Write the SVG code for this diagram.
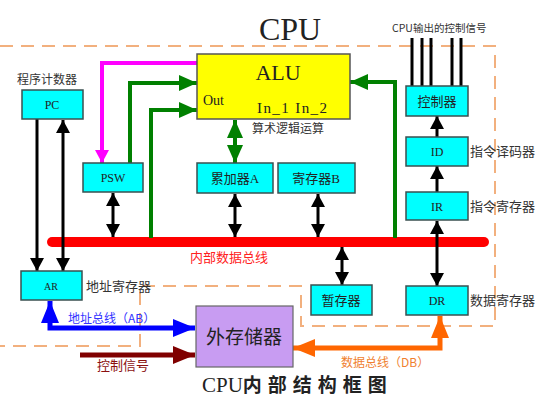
<svg xmlns="http://www.w3.org/2000/svg" width="538" height="401" viewBox="0 0 538 401">
<style>
.box{fill:#00ffff;stroke:#3a5050;stroke-width:1.5}
.t{font-family:"Liberation Serif","Noto Sans CJK SC",serif;fill:#222;text-anchor:middle}
.lab{font-family:"Noto Sans CJK SC","Liberation Sans",sans-serif;fill:#333;font-size:12px}
.blk{fill:none;stroke:#000;stroke-width:3}
.grn{fill:none;stroke:#008000;stroke-width:4}
</style>
<defs>
<marker id="ab" markerUnits="userSpaceOnUse" markerWidth="14" markerHeight="14" refX="13" refY="7" orient="auto-start-reverse"><path d="M0,0 L13,7 L0,14 z" fill="#000"/></marker>
<marker id="ag" markerUnits="userSpaceOnUse" markerWidth="18" markerHeight="16" refX="18" refY="8" orient="auto-start-reverse"><path d="M0,0 L18,8 L0,16 z" fill="#008000"/></marker>
<marker id="am" markerUnits="userSpaceOnUse" markerWidth="14" markerHeight="14" refX="13" refY="7" orient="auto-start-reverse"><path d="M0,0 L13,7 L0,14 z" fill="#ff00ff"/></marker>
<marker id="abl" markerUnits="userSpaceOnUse" markerWidth="22" markerHeight="18" refX="22" refY="9" orient="auto-start-reverse"><path d="M0,0 L22,9 L0,18 z" fill="#0000ff"/></marker>
<marker id="ard" markerUnits="userSpaceOnUse" markerWidth="22" markerHeight="18" refX="22" refY="9" orient="auto-start-reverse"><path d="M0,0 L22,9 L0,18 z" fill="#800000"/></marker>
<marker id="ao" markerUnits="userSpaceOnUse" markerWidth="22" markerHeight="18" refX="22" refY="9" orient="auto-start-reverse"><path d="M0,0 L22,9 L0,18 z" fill="#ff6600"/></marker>
</defs>
<rect width="538" height="401" fill="#fff"/>
<!-- dashed CPU boundary -->
<path d="M0,46 H495 V326 H301 V286 H140 V346 H0" fill="none" stroke="#f2b07e" stroke-width="2" stroke-dasharray="13,8"/>
<text class="t" x="290" y="40" font-size="32">CPU</text>
<text class="lab" x="392" y="32" font-size="10.5" style="font-size:10.5px">CPU输出的控制信号</text>

<g id="connectors">
<line x1="52" y1="242" x2="484" y2="242" stroke="#ff0000" stroke-width="10" stroke-linecap="round"/>
<g class="blk">
<line x1="412" y1="38" x2="412" y2="86"/><line x1="422" y1="38" x2="422" y2="86"/><line x1="431" y1="38" x2="431" y2="86"/><line x1="452" y1="38" x2="452" y2="86"/><line x1="461" y1="38" x2="461" y2="86"/>
<path d="M37,119 V271" marker-end="url(#ab)"/>
<path d="M63,120 V271" marker-start="url(#ab)" marker-end="url(#ab)"/>
<path d="M113,193 V237" marker-start="url(#ab)" marker-end="url(#ab)"/>
<path d="M235,194 V237" marker-start="url(#ab)" marker-end="url(#ab)"/>
<path d="M318,194 V237" marker-start="url(#ab)" marker-end="url(#ab)"/>
<path d="M342,247 V285" marker-start="url(#ab)" marker-end="url(#ab)"/>
<path d="M437,221 V286" marker-start="url(#ab)" marker-end="url(#ab)"/>
<path d="M437,137 V116" marker-end="url(#ab)"/>
<path d="M437,192 V166" marker-end="url(#ab)"/>
</g>
<path d="M197,63 H102 V163" fill="none" stroke="#ff00ff" stroke-width="4" marker-end="url(#am)"/>
<g class="grn">
<path d="M130,163 V83 H197" marker-end="url(#ag)"/>
<path d="M151,238 V110 H197" marker-end="url(#ag)"/>
<path d="M395,238 V82 H350" marker-end="url(#ag)"/>
<path d="M235,120 V163" marker-start="url(#ag)" marker-end="url(#ag)"/>
</g>
<path d="M50,301 V328 H195" fill="none" stroke="#0000ff" stroke-width="5" marker-start="url(#abl)" marker-end="url(#abl)"/>
<path d="M80,355 H195" fill="none" stroke="#800000" stroke-width="5" marker-end="url(#ard)"/>
<path d="M440,316 V348 H293" fill="none" stroke="#ff6600" stroke-width="5" marker-start="url(#ao)" marker-end="url(#ao)"/>
</g>

<g id="alu">
<rect x="197" y="54" width="153" height="65" fill="#ffff00" stroke="#555" stroke-width="1.5"/>
<text class="t" x="278" y="80" font-size="22">ALU</text>
<text class="t" x="203" y="105" font-size="14" style="text-anchor:start">Out</text>
<text class="t" x="257" y="113" font-size="15" textLength="70" style="text-anchor:start">In_1 In_2</text>
<text class="lab" x="252" y="133">算术逻辑运算</text>
</g>
<g id="pc">
<text class="lab" x="17" y="84">程序计数器</text>
<rect class="box" x="22" y="90" width="61" height="29"/>
<text class="t" x="52" y="109" font-size="12">PC</text>
</g>
<g id="psw"><rect class="box" x="83" y="163" width="60" height="29"/><text class="t" x="113" y="182" font-size="12">PSW</text></g>
<g id="acc"><rect class="box" x="197" y="163" width="76" height="30"/><text class="t" x="235" y="183" font-size="13">累加器A</text></g>
<g id="regb"><rect class="box" x="278" y="163" width="77" height="30"/><text class="t" x="316" y="183" font-size="13">寄存器B</text></g>
<g id="ctrl"><rect class="box" x="406" y="86" width="62" height="30"/><text class="t" x="437" y="106" font-size="13">控制器</text></g>
<g id="id"><rect class="box" x="406" y="137" width="62" height="29"/><text class="t" x="437" y="156" font-size="12">ID</text><text class="lab" x="470" y="156" style="font-size:13px">指令译码器</text></g>
<g id="ir"><rect class="box" x="406" y="192" width="62" height="28"/><text class="t" x="437" y="211" font-size="12">IR</text><text class="lab" x="470" y="211" style="font-size:13px">指令寄存器</text></g>
<g id="dr"><rect class="box" x="406" y="286" width="62" height="29"/><text class="t" x="437" y="305" font-size="12">DR</text><text class="lab" x="470" y="305" style="font-size:13px">数据寄存器</text></g>
<g id="tmp"><rect class="box" x="311" y="285" width="61" height="30"/><text class="t" x="341" y="305" font-size="13">暂存器</text></g>
<g id="ar"><rect class="box" x="21" y="271" width="61" height="29"/><text class="t" x="51" y="290" font-size="10">AR</text><text class="lab" x="86" y="291" style="font-size:13px">地址寄存器</text></g>
<g id="mem"><rect x="196" y="306" width="97" height="61" fill="#c89cf2" stroke="#666" stroke-width="1.2"/><text class="t" x="244" y="344" font-size="19">外存储器</text></g>

<text class="lab" x="190" y="262" style="font-size:13px;fill:#ff2020">内部数据总线</text>
<text class="lab" x="68" y="323" style="fill:#3333ff">地址总线（AB）</text>
<text class="lab" x="97" y="370" style="font-size:13px;fill:#8b1010">控制信号</text>
<text class="lab" x="341" y="367" style="fill:#f07f30">数据总线（DB）</text>
<text x="202" y="392" font-family="Liberation Serif,serif" font-size="21" fill="#222">CPU<tspan font-family="Noto Sans CJK SC,sans-serif" font-weight="bold" font-size="19" letter-spacing="6">内部结构框图</tspan></text>
</svg>
